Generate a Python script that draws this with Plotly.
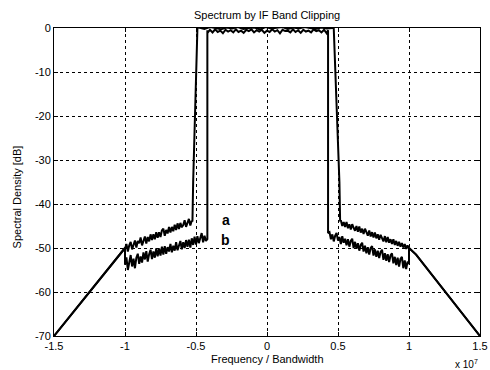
import numpy as np
import plotly.graph_objects as go

# Frequencies in units of 1e7 (axis shows "x 10^7")
x_ticks = [-1.5, -1, -0.5, 0, 0.5, 1, 1.5]
x_tick_labels = ["-1.5", "-1", "-0.5", "0", "0.5", "1", "1.5"]
y_ticks = [0, -10, -20, -30, -40, -50, -60, -70]
y_tick_labels = ["0", "-10", "-20", "-30", "-40", "-50", "-60", "-70"]

# Outer filter skirts (shared by both curves)
skirt_left_f = [-1.5, -1.0]
skirt_left_db = [-70, -50]
skirt_right_f = [1.0, 1.05, 1.5]
skirt_right_db = [-50, -51.5, -70]

# Curve a: shoulders and in-band
a_left_range = (-1.0, -0.53)
a_left_db = [-50.2, -49.1, -50.8, -49.4, -48.6, -50.3, -49.0, -48.3, -49.9, -48.4,
             -48.9, -47.6, -49.4, -48.1, -47.4, -49.0, -47.5, -48.5, -46.9, -48.2,
             -46.9, -48.0, -46.4, -47.7, -46.4, -47.5, -46.0, -45.6, -47.2, -45.9,
             -46.7, -45.2, -46.5, -45.2, -46.2, -44.7, -45.9, -44.4, -45.7, -44.3,
             -45.3, -44.8, -43.7, -45.2, -44.2, -43.4, -44.9, -43.8]
a_edge_left_f = [-0.525, -0.52, -0.49]
a_edge_left_db = [-44.0, -35.0, 0.0]
a_in_range = (-0.48, 0.46)
a_in_db = [0.1, -0.2, 0.2, 0.0, -0.3, 0.1, -0.1, 0.2, -0.2, 0.0,
           0.1, -0.3, 0.2, -0.1, 0.0, 0.2, -0.2, 0.1, -0.1, 0.2,
           0.0, -0.2, 0.1, -0.1, 0.0]
a_edge_right_f = [0.47, 0.51, 0.515]
a_edge_right_db = [0.0, -35.0, -44.0]
a_right_range = (0.52, 1.0)
a_right_db = [-43.7, -45.0, -44.1, -45.2, -44.1, -45.5, -44.6, -45.8, -44.6, -45.4,
              -46.1, -45.0, -46.3, -45.1, -46.5, -45.6, -46.8, -45.6, -46.4, -47.2,
              -46.0, -47.4, -46.4, -47.6, -46.5, -47.8, -46.9, -48.1, -47.0, -47.8,
              -48.5, -47.3, -48.7, -47.5, -48.8, -48.0, -49.1, -48.0, -49.3, -48.4,
              -49.5, -48.6, -49.7, -48.9, -49.9, -49.1, -50.2, -49.4, -50.2]

# Curve b: shoulders and in-band
b_left_range = (-1.0, -0.43)
b_left_db = [-53.8, -52.1, -55.0, -52.9, -51.6, -54.2, -52.4, -54.6, -52.2, -51.3,
             -53.6, -51.9, -53.3, -51.0, -52.6, -50.7, -53.1, -51.4, -50.4, -52.5,
             -50.8, -52.2, -50.1, -51.9, -50.1, -51.7, -49.7, -51.5, -49.6, -51.3,
             -49.8, -50.8, -49.1, -51.0, -49.5, -50.6, -48.7, -50.5, -49.2, -48.4,
             -50.3, -48.7, -50.0, -48.2, -49.7, -48.1, -49.9, -47.8, -49.3, -47.4,
             -49.2, -47.3, -48.9, -47.9, -46.6, -48.7, -47.2, -48.4]
b_edge_left_f = [-0.42, -0.42]
b_edge_left_db = [-48.0, -0.5]
b_in_range = (-0.42, 0.42)
b_in_db = [-1.2, -0.4, -1.0, -0.3, -0.9, -0.6, -1.2, -0.4, -0.8, -0.5, -1.0,
           -0.3, -0.9, -0.6, -1.1, -0.4, -0.7, -0.3, -1.0, -0.5, -0.8,
           -0.4, -1.1, -0.6, -0.9, -0.3, -0.8, -0.5, -1.2, -0.4, -0.7,
           -0.6, -1.0, -0.3, -0.9, -0.5, -1.1, -0.4, -0.8, -0.6, -1.0,
           -0.3, -0.7, -0.5, -1.0, -0.4, -1.2]
b_edge_right_f = [0.43, 0.43]
b_edge_right_db = [-0.5, -46.6]
b_right_range = (0.44, 1.0)
b_right_db = [-46.4, -48.0, -46.9, -48.5, -47.2, -46.6, -48.3, -47.5, -49.1, -47.3,
              -48.8, -47.9, -49.4, -48.0, -49.7, -48.4, -47.9, -50.0, -48.6, -50.2,
              -48.9, -50.6, -49.3, -48.8, -50.8, -49.5, -51.2, -49.8, -51.5, -50.0,
              -49.6, -51.7, -50.3, -52.0, -50.6, -52.3, -50.9, -50.4, -52.7, -51.2,
              -52.9, -51.4, -53.2, -51.7, -51.2, -53.5, -52.0, -53.9, -52.2, -54.2,
              -52.5, -52.0, -54.6, -52.8, -54.8, -53.1, -53.6]
b_end_f = [1.0]
b_end_db = [-50.0]


def span(rng, vals):
    return list(np.linspace(rng[0], rng[1], len(vals)))


a_f = (skirt_left_f + span(a_left_range, a_left_db) + a_edge_left_f + span(a_in_range, a_in_db)
       + a_edge_right_f + span(a_right_range, a_right_db) + skirt_right_f)
a_db = (skirt_left_db + a_left_db + a_edge_left_db + a_in_db
        + a_edge_right_db + a_right_db + skirt_right_db)

b_f = (skirt_left_f + span(b_left_range, b_left_db) + b_edge_left_f + span(b_in_range, b_in_db)
       + b_edge_right_f + span(b_right_range, b_right_db) + b_end_f + skirt_right_f)
b_db = (skirt_left_db + b_left_db + b_edge_left_db + b_in_db
        + b_edge_right_db + b_right_db + b_end_db + skirt_right_db)

FONT = "Liberation Sans, Arial, sans-serif"

fig = go.Figure()
fig.add_trace(go.Scatter(x=a_f, y=a_db, mode="lines", line=dict(color="black", width=2),
                         showlegend=False, cliponaxis=True))
fig.add_trace(go.Scatter(x=b_f, y=b_db, mode="lines", line=dict(color="black", width=2),
                         showlegend=False, cliponaxis=True))

axis_common = dict(showline=True, linecolor="black", linewidth=1, mirror="allticks",
                   ticks="inside", ticklen=4, tickcolor="black", automargin=False,
                   showgrid=True, gridcolor="black", griddash="dot", gridwidth=1,
                   zeroline=False, tickfont=dict(family=FONT, size=11, color="black"))

fig.update_xaxes(range=[-1.5, 1.5], tickvals=x_ticks, ticktext=x_tick_labels, **axis_common)
fig.update_yaxes(range=[-70, 0], tickvals=y_ticks, ticktext=y_tick_labels, **axis_common)

fig.update_layout(
    width=490, height=370,
    margin=dict(l=54, r=10, t=28, b=34),
    paper_bgcolor="white", plot_bgcolor="white",
    font=dict(family=FONT, size=11, color="black"),
    annotations=[
        dict(text="Spectrum by IF Band Clipping", xref="paper", yref="paper", x=0.5, y=1,
             yanchor="bottom", yshift=5, showarrow=False, font=dict(size=11)),
        dict(text="Frequency / Bandwidth", xref="paper", yref="paper", x=0.5, y=0,
             yanchor="top", yshift=-15, showarrow=False, font=dict(size=11)),
        dict(text="x 10<sup>7</sup>", xref="paper", yref="paper", x=1.0, y=0,
             xanchor="right", yanchor="top", yshift=-20, showarrow=False, font=dict(size=10)),
        dict(text="Spectral Density [dB]", xref="paper", yref="paper", x=0, y=0.45,
             xanchor="center", xshift=-37, textangle=-90, showarrow=False, font=dict(size=11)),
        dict(text="<b>a</b>", xref="x", yref="y", x=-0.29, y=-43.6, showarrow=False,
             font=dict(size=14)),
        dict(text="<b>b</b>", xref="x", yref="y", x=-0.29, y=-48.2, showarrow=False,
             font=dict(size=14)),
    ],
)

fig.write_html("out.html")
